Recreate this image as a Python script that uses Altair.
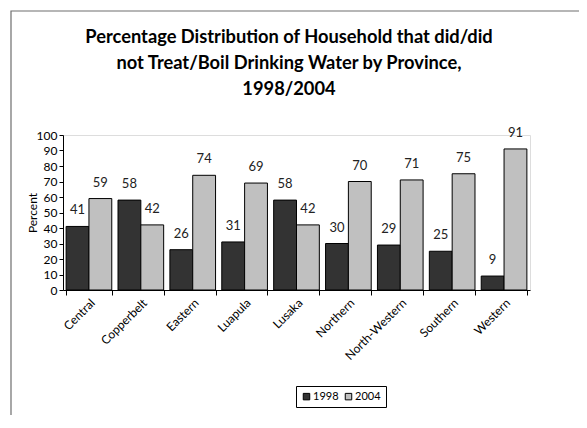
import altair as alt
import pandas as pd

provinces = ["Central", "Copperbelt", "Eastern", "Luapula", "Lusaka",
             "Northern", "North-Western", "Southern", "Western"]
y1998 = [41, 58, 26, 31, 58, 30, 29, 25, 9]
y2004 = [59, 42, 74, 69, 42, 70, 71, 75, 91]
years = ["1998", "2004"]
y_ticks = [0, 10, 20, 30, 40, 50, 60, 70, 80, 90, 100]
title_lines = ["Percentage Distribution of Household that did/did",
               "not Treat/Boil Drinking Water by Province,",
               "1998/2004"]

rows = []
for p, a, b in zip(provinces, y1998, y2004):
    rows.append({"Province": p, "Year": years[0], "Percent": a})
    rows.append({"Province": p, "Year": years[1], "Percent": b})
df = pd.DataFrame(rows)

FONT = "Lato"

x_enc = alt.X(
    "Province:N", sort=provinces,
    scale=alt.Scale(paddingInner=0.12, paddingOuter=0.06),
    axis=alt.Axis(title=None, labelAngle=-45, labelAlign="right", labelBaseline="top",
                  tickBand="extent", tickSize=5, tickColor="black", domainColor="black",
                  labelFont=FONT, labelFontSize=12, labelColor="black", labelPadding=2),
)
y_enc = alt.Y(
    "Percent:Q", scale=alt.Scale(domain=[0, 100]),
    axis=alt.Axis(title="Percent", values=y_ticks, tickCount=11, grid=False,
                  labelOverlap=False, labelFlush=False,
                  tickSize=4, tickColor="black", domainColor="black",
                  labelFont=FONT, labelFontSize=12, labelColor="black",
                  titleFont=FONT, titleFontSize=12, titleFontWeight="normal",
                  titleColor="black", titlePadding=-3),
)

base = alt.Chart(df)

bars = base.mark_bar(stroke="black", strokeWidth=1).encode(
    x=x_enc,
    xOffset=alt.XOffset("Year:N", sort=years),
    y=y_enc,
    color=alt.Color("Year:N", sort=years,
                    scale=alt.Scale(domain=years, range=["#333333", "#C0C0C0"]),
                    legend=alt.Legend(title=None, orient="none", legendX=233, legendY=251,
                                      direction="horizontal", symbolType="square",
                                      symbolSize=42, symbolStrokeColor="black",
                                      symbolStrokeWidth=1, labelFont=FONT,
                                      labelFontSize=11, labelColor="black",
                                      columnPadding=4, labelOffset=1,
                                      strokeColor="black", padding=5)),
)

labels = base.mark_text(dy=-9, font=FONT, fontSize=13, color="#222222", baseline="bottom").encode(
    x=x_enc,
    xOffset=alt.XOffset("Year:N", sort=years),
    y=y_enc,
    text="Percent:Q",
)

one = pd.DataFrame({"a": [0]})

frame = alt.Chart(one).mark_rect(
    fill="transparent", stroke="#6e6e6e", strokeWidth=1.2
).encode(
    x=alt.value(-52), x2=alt.value(900), y=alt.value(-124), y2=alt.value(900)
)

title = alt.Chart(one).mark_text(
    text=title_lines, font=FONT, fontSize=18.3, fontWeight="bold", color="black",
    align="center", baseline="alphabetic", lineHeight=26
).encode(x=alt.value(226), y=alt.value(-92))

chart = alt.layer(bars, labels, frame, title).properties(
    width=467, height=155,
    padding={"left": 55, "top": 127, "right": 49, "bottom": 125},
    autosize=alt.AutoSizeParams(type="none"),
).configure_view(stroke=None).configure(background="white")

chart.save("out.html", embed_options={"renderer": "svg", "actions": False})
